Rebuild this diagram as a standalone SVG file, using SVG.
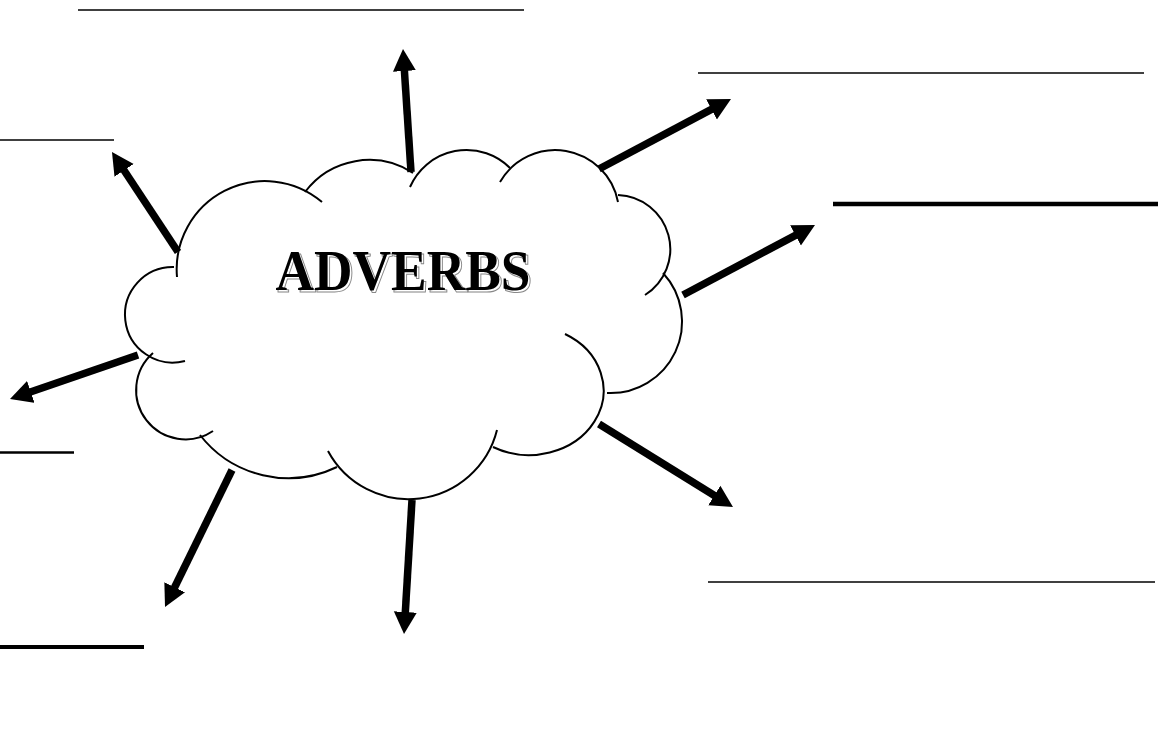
<svg xmlns="http://www.w3.org/2000/svg" width="1166" height="729" viewBox="0 0 1166 729">
  <style>
    .lobe { fill: none; stroke: #000; stroke-width: 2; stroke-linecap: butt; }
    .arrow { stroke: #000; stroke-width: 7.5; fill: none; marker-end: url(#head); }
    .blank { stroke: #000; }
    .title { font-family: "Liberation Serif", "DejaVu Serif", serif; font-weight: bold; font-size: 58px; }
  </style>
  <defs>
    <marker id="head" markerUnits="userSpaceOnUse" viewBox="0 -12 24 24" markerWidth="24" markerHeight="24" refX="2" refY="0" orient="auto">
      <path d="M0,-11.5 L22,0 L0,11.5 Z" fill="#000"/>
    </marker>
  </defs>
  <rect width="1166" height="729" fill="#fff"/>

  <g id="cloud">
    <path class="lobe" d="M177,277 A88.3,88.3 0 0 1 322,202"/>
    <path class="lobe" d="M305,192 A80.3,80.3 0 0 1 413,173"/>
    <path class="lobe" d="M410,187 A61.6,61.6 0 0 1 510,168"/>
    <path class="lobe" d="M500,182 A63.8,63.8 0 0 1 618,202"/>
    <path class="lobe" d="M618,195 A54.2,54.2 0 0 1 645,295"/>
    <path class="lobe" d="M663,273 A71.5,71.5 0 0 1 607,393"/>
    <path class="lobe" d="M565,334 A74,64 0 1 1 493,447"/>
    <path class="lobe" d="M497,430 A91.3,91.3 0 0 1 328,451"/>
    <path class="lobe" d="M337,467 A112,112 0 0 1 200,435"/>
    <path class="lobe" d="M213,431 A49.3,49.3 0 0 1 153,353"/>
    <path class="lobe" d="M185,361 A47.8,47.8 0 1 1 174,267"/>
    <text class="title" x="405" y="292" text-anchor="middle" textLength="255" lengthAdjust="spacingAndGlyphs" fill="#fff" stroke="#888" stroke-width="1">ADVERBS</text>
    <text class="title" x="403" y="290" text-anchor="middle" textLength="255" lengthAdjust="spacingAndGlyphs" fill="#000">ADVERBS</text>
  </g>

  <g id="blank-top"><line class="blank" x1="78" y1="10" x2="524" y2="10" stroke-width="1.3"/></g>
  <g id="blank-left-upper"><line class="blank" x1="0" y1="140" x2="114" y2="140" stroke-width="1.3"/></g>
  <g id="blank-right-upper"><line class="blank" x1="698" y1="73" x2="1144" y2="73" stroke-width="1.3"/></g>
  <g id="blank-right-mid"><line class="blank" x1="833" y1="204" x2="1158" y2="204" stroke-width="4.3"/></g>
  <g id="blank-left-mid"><line class="blank" x1="0" y1="452.5" x2="74" y2="452.5" stroke-width="2.6"/></g>
  <g id="blank-left-bottom"><line class="blank" x1="0" y1="647" x2="144" y2="647" stroke-width="4"/></g>
  <g id="blank-right-bottom"><line class="blank" x1="708" y1="582" x2="1155" y2="582" stroke-width="1.5"/></g>

  <g id="connectors">
    <line class="arrow" x1="178" y1="252" x2="123" y2="168.7"/>
    <line class="arrow" x1="411" y1="172" x2="404.3" y2="69"/>
    <line class="arrow" x1="599" y1="169" x2="713.3" y2="108.4"/>
    <line class="arrow" x1="683" y1="295" x2="797.3" y2="234.4"/>
    <line class="arrow" x1="599" y1="424" x2="716" y2="496.5"/>
    <line class="arrow" x1="232" y1="470" x2="173.8" y2="589"/>
    <line class="arrow" x1="412" y1="500" x2="405.2" y2="614"/>
    <line class="arrow" x1="138" y1="355" x2="28.9" y2="392.5"/>
  </g>
</svg>
